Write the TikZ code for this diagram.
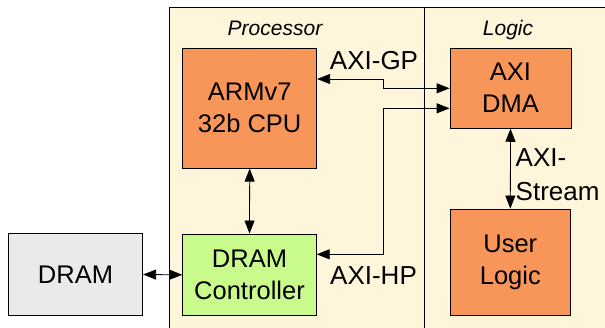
\documentclass[tikz,border=0pt]{standalone}
\usepackage{fontspec}
\setmainfont{Liberation Sans}
\usetikzlibrary{arrows.meta}
\definecolor{bgcream}{RGB}{255,245,218}
\definecolor{boxorange}{RGB}{248,149,88}
\definecolor{boxgreen}{RGB}{200,250,140}
\definecolor{boxgray}{RGB}{234,234,234}
\begin{document}
\begin{tikzpicture}[x=1pt,y=-1pt,
  blk/.style={draw=black,line width=0.8pt,inner sep=0pt,align=center,
    font=\fontsize{25.5}{32}\selectfont},
  lbl/.style={font=\fontsize{26}{33.3}\selectfont,inner sep=0pt},
  hdr/.style={font=\fontsize{21}{24}\selectfont\itshape,inner sep=0pt},
  conn/.style={line width=0.8pt,{Triangle[length=13pt,width=10pt]}-{Triangle[length=13pt,width=10pt]}}]
\useasboundingbox (0,0) rectangle (605,327);
\clip (0,0) rectangle (605,327);
\draw[fill=bgcream,line width=0.8pt] (169,7.5) rectangle (615,340);
\draw[line width=0.8pt] (424,7.5) -- (424,340);
\node[hdr,anchor=base] (proc) at (275,35) {Processor};
\node[hdr,anchor=base] (logic) at (508,35) {Logic};
\node[blk,fill=boxorange,minimum width=134pt,minimum height=120pt] (cpu) at (249.7,108.2) {ARMv7\\32b CPU};
\node[blk,fill=boxgreen,minimum width=133.5pt,minimum height=81.7pt] (ctrl) at (249.5,274.8) {DRAM\\Controller};
\node[blk,fill=boxgray,minimum width=134.4pt,minimum height=82.4pt] (dram) at (75.5,274.5) {DRAM};
\node[blk,fill=boxorange,minimum width=121pt,minimum height=80.3pt] (dma) at (510.5,88.2) {AXI\\DMA};
\node[blk,fill=boxorange,minimum width=119.3pt,minimum height=106.7pt] (user) at (510.3,262.3) {User\\Logic};
\coordinate (gpa) at (383.3,79);
\coordinate (gpb) at (383.3,88.3);
\coordinate (hpa) at (383.3,108.3);
\coordinate (hpb) at (383.3,254.3);
\draw[conn] (cpu.east |- gpa) -- (gpa) -- (gpb) -- (dma.west |- gpb);
\draw[conn] (ctrl.east |- hpb) -- (hpb) -- (hpa) -- (dma.west |- hpa);
\draw[conn] (cpu.south) -- (ctrl.north);
\draw[conn] (dram.east) -- (ctrl.west);
\draw[conn] (dma.south) -- (user.north);
\node[lbl,anchor=base] (gp) at (374,69.3) {AXI-GP};
\node[lbl,anchor=base] (hp) at (373.5,284) {AXI-HP};
\node[lbl,anchor=base west,align=left] (st) at (515.5,200) {AXI-\\Stream};
\end{tikzpicture}
\end{document}
